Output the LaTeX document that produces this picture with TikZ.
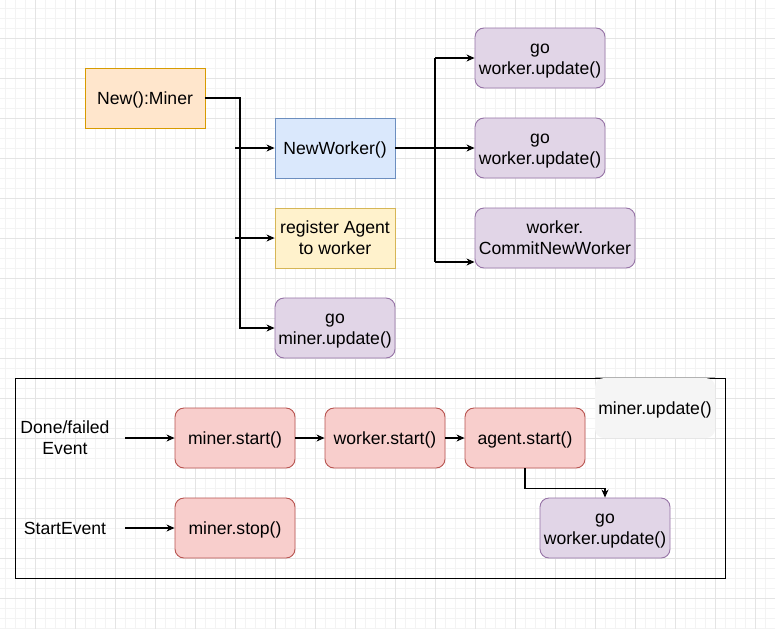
\documentclass[tikz,border=0pt]{standalone}
\usepackage{fontspec}
\setmainfont{Liberation Sans}
\usetikzlibrary{arrows.meta}
\definecolor{gridmajor}{HTML}{E4E4E4}
\definecolor{gridminor}{HTML}{F3F3F3}
\definecolor{ofill}{HTML}{FFE6CC}\definecolor{odraw}{HTML}{D79B00}
\definecolor{bfill}{HTML}{DAE8FC}\definecolor{bdraw}{HTML}{6C8EBF}
\definecolor{yfill}{HTML}{FFF2CC}\definecolor{ydraw}{HTML}{D6B656}
\definecolor{pfill}{HTML}{E1D5E7}\definecolor{pdraw}{HTML}{9673A6}
\definecolor{rfill}{HTML}{F8CECC}\definecolor{rdraw}{HTML}{B85450}
\definecolor{gfill}{HTML}{F5F5F5}
\newcommand{\lstrut}{\rule[-4.65pt]{0pt}{21.5pt}}
\tikzset{
  txt/.style={font=\fontsize{17.6}{21.5}\selectfont, align=center, inner sep=0pt, text=black},
  box/.style={txt, draw, line width=0.9pt, minimum width=120pt, minimum height=60pt},
  orangebox/.style={box, fill=ofill, draw=odraw},
  bluebox/.style={box, fill=bfill, draw=bdraw},
  yellowbox/.style={box, fill=yfill, draw=ydraw},
  purplebox/.style={box, fill=pfill, draw=pdraw, rounded corners=9pt},
  redbox/.style={box, fill=rfill, draw=rdraw, rounded corners=9pt},
  graybox/.style={txt, fill=gfill, minimum width=120pt, minimum height=60pt, rounded corners=9pt},
  conn/.style={line width=1.1pt, -{Stealth[length=8pt,width=7pt,inset=2.5pt]}},
  plainline/.style={line width=1.1pt},
  minorline/.style={gridminor, line width=0.8pt},
  majorline/.style={gridmajor, line width=1pt},
}
\begin{document}
\begin{tikzpicture}[x=1pt,y=-1pt]
\useasboundingbox (0,0) rectangle (775,629);
\fill[white] (0,0) rectangle (775,629);
% grid
\foreach \gx in {5,15,...,775} \draw[minorline] (\gx,0) -- (\gx,629);
\foreach \gy in {8,18,...,629} \draw[minorline] (0,\gy) -- (775,\gy);
\foreach \gx in {35,75,...,775} \draw[majorline] (\gx,0) -- (\gx,629);
\foreach \gy in {38,78,...,629} \draw[majorline] (0,\gy) -- (775,\gy);

% top part
\node[orangebox] (miner) at (145,98) {\lstrut New():Miner};
\node[bluebox] (nw) at (335,148) {\lstrut NewWorker()};
\node[yellowbox] (reg) at (335,238) {\lstrut register Agent\\\lstrut to worker};
\node[purplebox] (mupd) at (335,328) {\lstrut go\\\lstrut miner.update()};
\node[purplebox, minimum width=130pt] (wu1) at (540,58) {\lstrut go\\\lstrut worker.update()};
\node[purplebox, minimum width=130pt] (wu2) at (540,148) {\lstrut go\\\lstrut worker.update()};
\node[purplebox, minimum width=160pt] (commit) at (555,238) {\lstrut worker.\\\lstrut CommitNewWorker};

\coordinate (j1) at (240,98);
\draw[conn] (miner.east) -- (j1) |- (mupd.west);
\coordinate (s1) at (235,148);
\coordinate (s2) at (235,238);
\draw[conn] (s1) -- (nw.west);
\draw[conn] (s2) -- (reg.west);

\coordinate (j2) at (435,58);
\coordinate (j3) at (435,262);
\draw[conn] (nw.east) -- (wu2.west);
\draw[plainline] (j2) -- (j3);
\draw[conn] (j2) -- (wu1.west);
\draw[conn] (j3) -- (j3 -| commit.west);

% bottom part
\node[draw, line width=1pt, minimum width=710pt, minimum height=200pt, inner sep=0pt] (frame) at (370,478) {};
\node[graybox] (mu) at (655,408) {\lstrut miner.update()};
\draw[gray!60, line width=0.8pt] (mu.north west) -- (mu.north east);

\node[txt] (done) at (65,438) {\lstrut Done/failed\\\lstrut Event};
\node[txt] (start) at (65,528) {\lstrut StartEvent};
\node[redbox] (ms) at (235,438) {\lstrut miner.start()};
\node[redbox] (ws) at (385,438) {\lstrut worker.start()};
\node[redbox] (as) at (525,438) {\lstrut agent.start()};
\node[redbox] (mstop) at (235,528) {\lstrut miner.stop()};
\node[purplebox, minimum width=130pt] (wu3) at (605,528) {\lstrut go\\\lstrut worker.update()};

\coordinate (e1) at (125,438);
\coordinate (e2) at (125,528);
\draw[conn] (e1) -- (ms.west);
\draw[conn] (e2) -- (mstop.west);
\draw[conn] (ms.east) -- (ws.west);
\draw[conn] (ws.east) -- (as.west);
\draw[conn] (as.south) -- ++(0,20) -| (wu3.north);
\end{tikzpicture}
\end{document}
